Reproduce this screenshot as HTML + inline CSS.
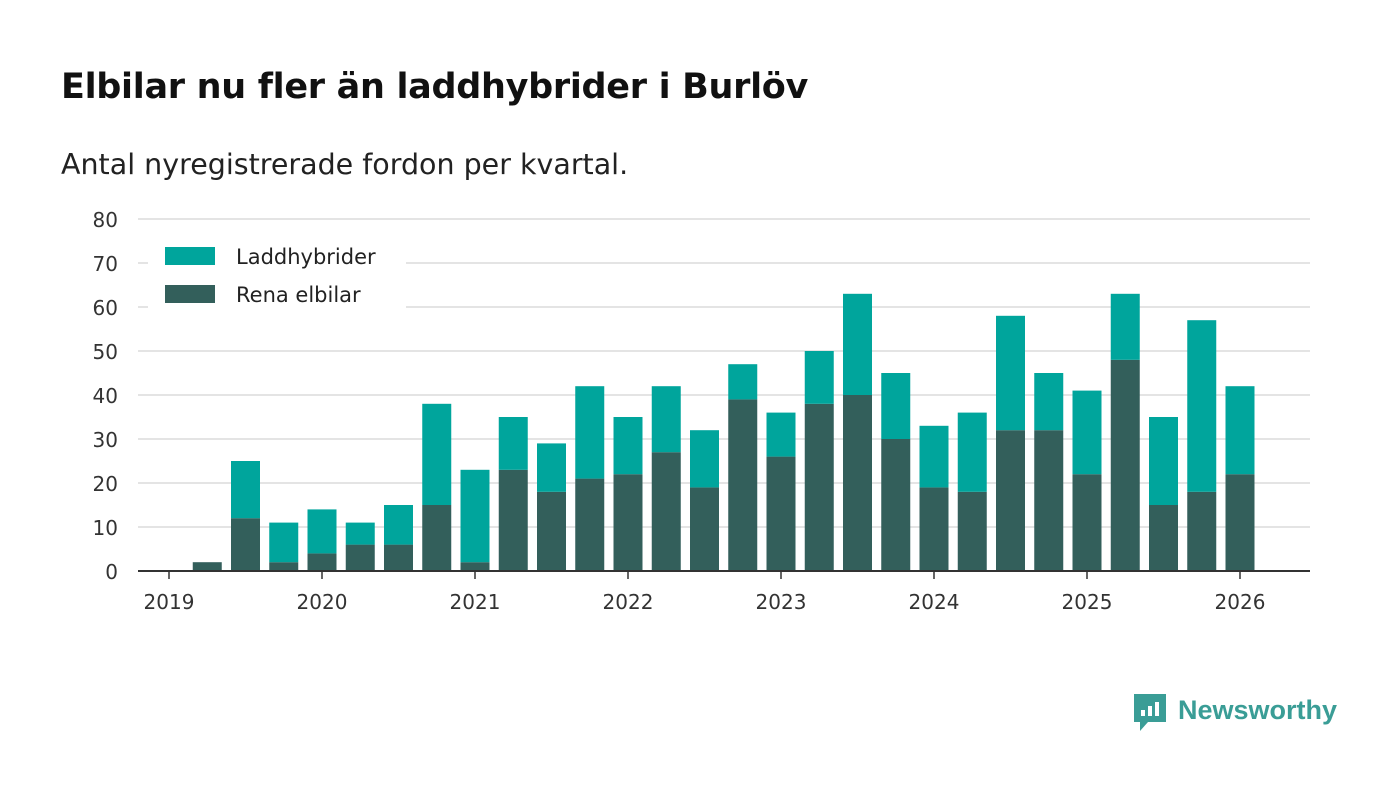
<!DOCTYPE html>
<html><head><meta charset="utf-8"><style>
body{margin:0;background:#fff;font-family:"DejaVu Sans","Liberation Sans",sans-serif;}
#wrap{position:relative;width:1400px;height:793px;overflow:hidden;}
h1{position:absolute;left:61px;top:67px;margin:0;font-size:35px;font-weight:bold;color:#111;letter-spacing:-0.3px;}
.sub{position:absolute;left:61px;top:148px;font-size:28.5px;color:#222;}
</style></head><body>
<div id="wrap">
<h1>Elbilar nu fler än laddhybrider i Burlöv</h1>
<div class="sub">Antal nyregistrerade fordon per kvartal.</div>
<svg id="chart" width="1400" height="793" style="position:absolute;left:0;top:0;font-family:'DejaVu Sans','Liberation Sans',sans-serif"></svg>
</div>
<script>
const quarters=["2019Q1","2019Q2","2019Q3","2019Q4","2020Q1","2020Q2","2020Q3","2020Q4","2021Q1","2021Q2","2021Q3","2021Q4","2022Q1","2022Q2","2022Q3","2022Q4","2023Q1","2023Q2","2023Q3","2023Q4","2024Q1","2024Q2","2024Q3","2024Q4","2025Q1","2025Q2","2025Q3","2025Q4","2026Q1"];
const elbilar=[0,2,12,2,4,6,6,15,2,23,18,21,22,27,19,39,26,38,40,30,19,18,32,32,22,48,15,18,22];
const laddhybrider=[0,0,13,9,10,5,9,23,21,12,11,21,13,15,13,8,10,12,23,15,14,18,26,13,19,15,20,39,20];
const yTicks=[0,10,20,30,40,50,60,70,80];
const xTickLabels=["2019","2020","2021","2022","2023","2024","2025","2026"];
const NS="http://www.w3.org/2000/svg";
const svg=document.getElementById("chart");
const x0=169,step=38.25,bw=29;
function y(v){return 571-v*4.4;}
function x(i){return x0+i*step;}
function mk(t,a,txt){const e=document.createElementNS(NS,t);for(const k in a)e.setAttribute(k,a[k]);if(txt!==undefined)e.textContent=txt;svg.appendChild(e);return e;}
yTicks.forEach(v=>{
 if(v>0){const g=mk("line",{x1:138,x2:1310,y1:y(v),y2:y(v),stroke:"#dcdcdc","stroke-width":1.5});
 
 }
 const t=mk("text",{x:118,y:y(v)+8,"text-anchor":"end","font-size":20,fill:"#333"},v);
 
 
});
quarters.forEach((q,i)=>{
 const e=elbilar[i],l=laddhybrider[i];
 if(e>0){const r=mk("rect",{x:x(i)-bw/2,y:y(e),width:bw,height:e*4.4,fill:"#335f5b"});
 
 }
 if(l>0){const r=mk("rect",{x:x(i)-bw/2,y:y(e+l),width:bw,height:l*4.4,fill:"#00a59c"});
 
 }
});
const ax=mk("line",{x1:138,x2:1310,y1:571,y2:571,stroke:"#333","stroke-width":2});


xTickLabels.forEach((lab,k)=>{
 const xx=x(k*4);
 const tk=mk("line",{x1:xx,x2:xx,y1:571,y2:579,stroke:"#333","stroke-width":1.5});
 
 
 const t=mk("text",{x:xx,y:609,"text-anchor":"middle","font-size":20,fill:"#333"},lab);
 
 
});
const lb=mk("rect",{x:148,y:238,width:258,height:70,fill:"#fff"});


[["Laddhybrider","#00a59c",256],["Rena elbilar","#335f5b",294]].forEach(([n,c,cy])=>{
 const s=mk("rect",{x:165,y:cy-9,width:50,height:18,fill:c});
 
 
 const t=mk("text",{x:236,y:cy+8,"font-size":21,fill:"#222"},n);
 
 
});
const lg=mk("path",{d:"M1134 694h32v28h-18l-8 9v-9h-6z",fill:"#3a9d96"});


[[1141,710,6],[1148,706,10],[1155,702,14]].forEach(([bx,by,h])=>{const b=mk("rect",{x:bx,y:by,width:4,height:h,fill:"#fff"});
 
 });
const lt=mk("text",{x:1178,y:719,"font-size":27,"font-weight":"bold",fill:"#3a9d96","font-family":"Liberation Sans, sans-serif"},"Newsworthy");


</script>
</body></html>
